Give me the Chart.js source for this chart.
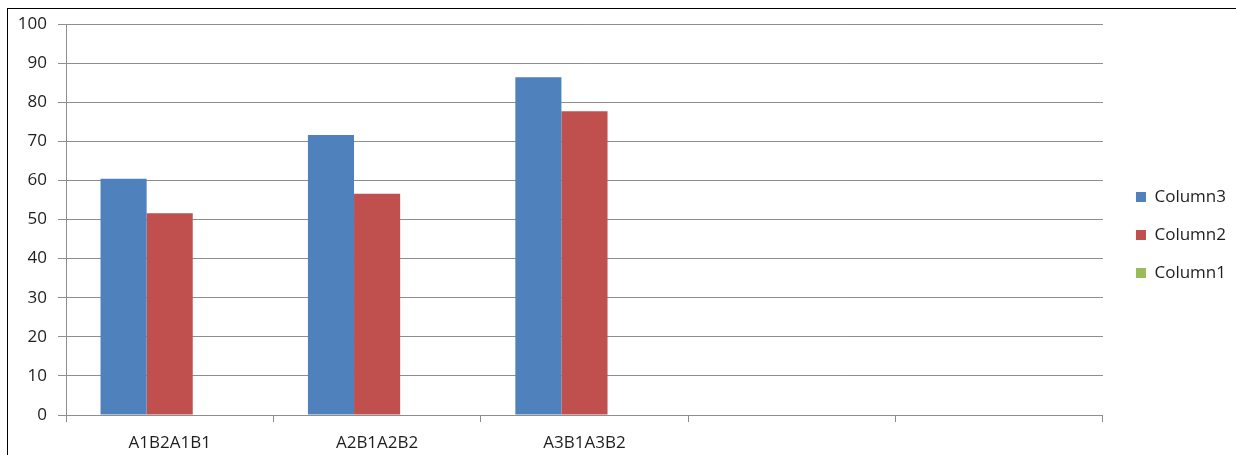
<!DOCTYPE html>
<html>
<head>
<meta charset="utf-8">
<script src="https://cdn.jsdelivr.net/npm/chart.js@4/dist/chart.umd.min.js"></script>
<style>
  html, body { margin: 0; padding: 0; background: #fff; }
  #wrap { position: relative; width: 1236px; height: 455px; overflow: hidden; }
  #frame { position: absolute; left: 7px; top: 8px; width: 1240px; height: 460px;
           border-left: 1px solid #000; border-top: 1px solid #000; pointer-events: none; }
  canvas { position: absolute; left: 0; top: 0; }
</style>
</head>
<body>
<div id="wrap">
  <canvas id="chart" width="1236" height="455"></canvas>
  <div id="frame"></div>
</div>
<script>
// Categories along the x axis (the last two slots are empty)
const categories = ['A1B2A1B1', 'A2B1A2B2', 'A3B1A3B2', '', ''];

// Series values
const column3 = [60.4, 71.6, 86.4, null, null];
const column2 = [51.6, 56.6, 77.7, null, null];
const column1 = [null, null, null, null, null];

// Value axis ticks
const yTicks = [0, 10, 20, 30, 40, 50, 60, 70, 80, 90, 100];

const TEXT = '#1e1e1e';
const GRID = '#8e8e8e';
const FONT = { family: '"Open Sans", sans-serif', size: 17 };

// Invisible spacer axis: reserves room without drawing anything
const spacer = (position, size) => ({
  position,
  display: true,
  grid: { display: false, drawTicks: false },
  border: { display: false },
  ticks: { display: false },
  afterFit: (s) => { if (s.isHorizontal()) { s.height = size; } else { s.width = size; } }
});

new Chart(document.getElementById('chart'), {
  type: 'bar',
  data: {
    labels: categories,
    datasets: [
      { label: 'Column3', data: column3, backgroundColor: '#4F81BD' },
      { label: 'Column2', data: column2, backgroundColor: '#C0504D' },
      { label: 'Column1', data: column1, backgroundColor: '#9BBB59' }
    ]
  },
  options: {
    responsive: false,
    animation: false,
    events: [],
    layout: { padding: { top: 15, right: 0, bottom: 0, left: 0 } },
    datasets: { bar: { categoryPercentage: 0.667, barPercentage: 1.0, borderWidth: 0 } },
    scales: {
      x: {
        offset: true,
        grid: { display: true, offset: true, drawOnChartArea: false, drawTicks: true,
                tickLength: 7, color: GRID, lineWidth: 1 },
        border: { display: true, color: GRID, width: 1 },
        ticks: { color: TEXT, font: FONT, padding: 11, maxRotation: 0, autoSkip: false },
        afterFit: (s) => { s.height = 40; }
      },
      y: {
        min: yTicks[0],
        max: yTicks[yTicks.length - 1],
        afterBuildTicks: (s) => { s.ticks = yTicks.map(v => ({ value: v })); },
        grid: { color: GRID, lineWidth: 1, tickLength: 8, drawTicks: true },
        border: { display: true, color: GRID, width: 1 },
        ticks: { color: TEXT, font: FONT, padding: 11 },
        afterFit: (s) => { s.width = 66; }
      },
      gapRight: spacer('right', 12),
      gapTop: spacer('top', 9)
    },
    plugins: {
      legend: {
        position: 'right',
        align: 'center',
        labels: { boxWidth: 10, boxHeight: 10, padding: 21, color: TEXT, font: FONT }
      },
      tooltip: { enabled: false }
    }
  }
});
</script>
</body>
</html>
